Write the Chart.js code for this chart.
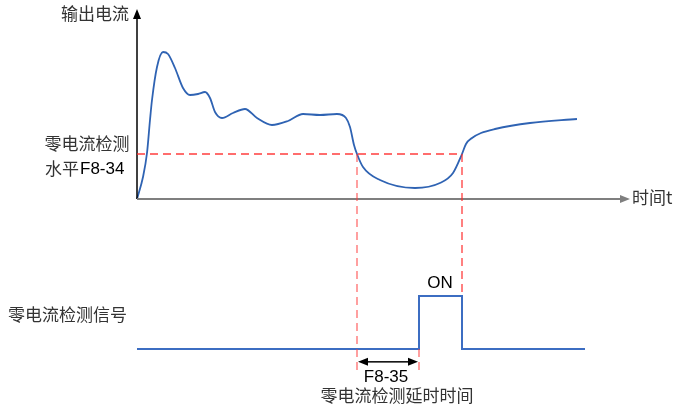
<!DOCTYPE html>
<html>
<head>
<meta charset="utf-8">
<script src="https://cdn.jsdelivr.net/npm/chart.js@4"></script>
<style>
  body { margin: 0; background: #fff; }
  #grafico { display: block; }
</style>
</head>
<body>
<canvas id="grafico" width="674" height="408"></canvas>
<script>
// Dados da corrente de saída (tempo, corrente)
const tempos = [0, 0.6, 1.0, 1.3, 1.5, 2.0, 2.6, 3.1, 3.8, 4.6, 5.3, 6.1, 6.8, 7.3, 7.8, 8.5, 9.6, 10.8, 12.0, 13.5, 15.1, 16.6, 18.3, 20.0, 20.9, 21.3, 21.7, 22.0, 22.6, 24.3, 27.8, 30.3, 31.6, 32.5, 32.9, 33.5, 34.4, 35.8, 39.3, 44.0];
const correntes = [0, 2.2, 4.6, 7.9, 9.9, 13.2, 14.7, 14.5, 13.1, 11.1, 10.4, 10.5, 10.7, 10.1, 8.7, 8.1, 8.6, 9.0, 8.1, 7.4, 7.8, 8.5, 8.4, 8.5, 8.1, 7.2, 5.4, 4.5, 3.2, 1.9, 1.1, 1.6, 2.6, 4.5, 5.5, 6.1, 6.6, 7.0, 7.6, 8.0];

// Sinal de detecção (0 = OFF, 1 = ON)
const temposSinal = [0, 28.2, 32.5, 44.8];
const valoresSinal = [0, 1, 0, 0];

// Parâmetros
const nivelZero = 4.5;      // F8-34
const tempoQueda = 22.0;    // corrente cruza o nível
const tempoAtraso = 28.2;   // fim do F8-35
const tempoVolta = 32.5;    // corrente volta acima do nível

const fonteCJK = '"Noto Sans CJK SC", "Noto Sans", sans-serif';
const fonteLat = '"Liberation Sans", Arial, sans-serif';

// Desenho das setas, tracejados e textos
const anotacoes = {
    id: 'anotacoes',
    afterDatasetsDraw(chart) {
        const ctx = chart.ctx;
        const x = chart.scales.x, y = chart.scales.y, ys = chart.scales.ySig;
        const px = v => x.getPixelForValue(v);
        const py = v => y.getPixelForValue(v);
        const ps = v => ys.getPixelForValue(v);

        function seta(x1, y1, x2, y2, cor, larg) {
            const ang = Math.atan2(y2 - y1, x2 - x1);
            ctx.save();
            ctx.strokeStyle = cor; ctx.fillStyle = cor; ctx.lineWidth = larg;
            ctx.beginPath(); ctx.moveTo(x1, y1);
            ctx.lineTo(x2 - 8 * Math.cos(ang), y2 - 8 * Math.sin(ang)); ctx.stroke();
            ctx.beginPath(); ctx.moveTo(x2, y2);
            ctx.lineTo(x2 - 10 * Math.cos(ang) + 4 * Math.sin(ang), y2 - 10 * Math.sin(ang) - 4 * Math.cos(ang));
            ctx.lineTo(x2 - 10 * Math.cos(ang) - 4 * Math.sin(ang), y2 - 10 * Math.sin(ang) + 4 * Math.cos(ang));
            ctx.closePath(); ctx.fill();
            ctx.restore();
        }

        function tracejado(x1, y1, x2, y2, cor) {
            ctx.save();
            ctx.strokeStyle = cor; ctx.lineWidth = 1.3; ctx.setLineDash([8, 5]);
            ctx.beginPath(); ctx.moveTo(x1, y1); ctx.lineTo(x2, y2); ctx.stroke();
            ctx.restore();
        }

        // eixos
        seta(px(0), py(0), px(0), py(19.0), '#000', 1.5);
        seta(px(0), py(0), px(49.3), py(0), '#7f7f7f', 2);

        // nível de corrente zero e linhas verticais
        tracejado(px(0), py(nivelZero), px(tempoVolta), py(nivelZero), 'rgba(255,40,40,0.9)');
        tracejado(px(tempoQueda), py(nivelZero), px(tempoQueda), ps(-0.43), 'rgba(255,60,60,0.75)');
        tracejado(px(tempoVolta), py(nivelZero), px(tempoVolta), ps(1), 'rgba(255,40,40,0.9)');
        tracejado(px(tempoAtraso), ps(0), px(tempoAtraso), ps(-0.43), 'rgba(255,60,60,0.75)');

        // seta dupla F8-35
        const ya = ps(-0.24);
        const meio = (px(tempoQueda) + px(tempoAtraso)) / 2;
        seta(meio, ya, px(tempoQueda) + 1, ya, '#000', 1.5);
        seta(meio, ya, px(tempoAtraso) - 1, ya, '#000', 1.5);

        // textos
        ctx.save();
        ctx.textBaseline = 'middle';
        ctx.fillStyle = '#333';
        ctx.font = '17px ' + fonteCJK;
        ctx.textAlign = 'right';
        ctx.fillText('输出电流', 129, 14);
        ctx.textAlign = 'center';
        ctx.fillText('零电流检测', 87, 144);
        ctx.textAlign = 'left';
        ctx.fillText('时间t', 632, 198);
        ctx.fillText('零电流检测信号', 8, 315);
        ctx.textAlign = 'center';
        ctx.fillText('零电流检测延时时间', 397, 396);

        ctx.textAlign = 'left';
        ctx.fillText('水平', 45, 169);
        ctx.fillStyle = '#000';
        ctx.font = '17px ' + fonteLat;
        ctx.fillText('F8-34', 80, 169);
        ctx.textAlign = 'center';
        ctx.fillText('ON', 440, 283);
        ctx.fillText('F8-35', 386, 377);
        ctx.restore();
    }
};

new Chart(document.getElementById('grafico'), {
    type: 'line',
    data: {
        datasets: [{
            label: '输出电流',
            data: tempos.map((t, i) => ({ x: t, y: correntes[i] })),
            borderColor: '#2f63b3',
            borderWidth: 1.8,
            pointRadius: 0,
            cubicInterpolationMode: 'monotone',
            yAxisID: 'y'
        }, {
            label: '零电流检测信号',
            data: temposSinal.map((t, i) => ({ x: t, y: valoresSinal[i] })),
            borderColor: '#3c6dc2',
            borderWidth: 2,
            pointRadius: 0,
            stepped: 'before',
            yAxisID: 'ySig'
        }]
    },
    options: {
        responsive: false,
        animation: false,
        devicePixelRatio: 1,
        layout: { padding: 0 },
        plugins: { legend: { display: false }, tooltip: { enabled: false } },
        scales: {
            x: { type: 'linear', min: -13.7, max: 53.7, display: false },
            y: { min: -20.9, max: 19.9, display: false },
            ySig: { min: -1.11, max: 6.58, display: false }
        }
    },
    plugins: [anotacoes]
});
</script>
</body>
</html>
